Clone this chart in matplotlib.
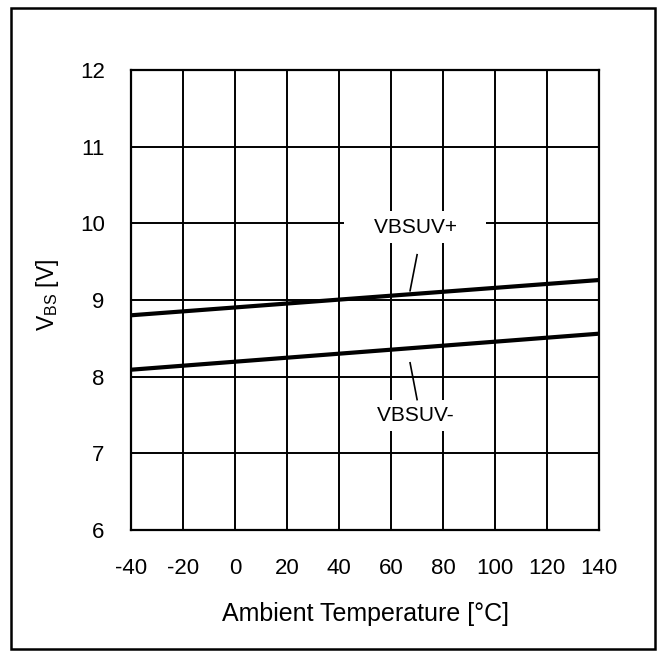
import matplotlib.pyplot as plt
from matplotlib.patches import Rectangle

plt.rcParams['font.family'] = ['Liberation Sans', 'DejaVu Sans']
plt.rcParams['mathtext.default'] = 'regular'
plt.rcParams['axes.unicode_minus'] = False

# data
temps = [-40, 140]
vbsuv_plus = [8.80, 9.26]
vbsuv_minus = [8.09, 8.56]

x_ticks = [-40, -20, 0, 20, 40, 60, 80, 100, 120, 140]
y_ticks = [6, 7, 8, 9, 10, 11, 12]

fig = plt.figure(figsize=(6.62, 6.51), dpi=100)
ax = fig.add_axes([0.198, 0.186, 0.707, 0.7065])

# outer frame around the whole figure
fig.patches.append(Rectangle((0.016, 0.003), 0.973, 0.985, transform=fig.transFigure,
                             fill=False, edgecolor='black', linewidth=1.8))

ax.set_xlim(-40, 140)
ax.set_ylim(6, 12)
ax.set_xticks(x_ticks)
ax.set_yticks(y_ticks)
ax.tick_params(length=0, labelsize=16)
ax.tick_params(axis='y', pad=19)
ax.tick_params(axis='x', pad=20)
ax.grid(True, color='black', linewidth=1.4)
ax.set_axisbelow(True)
for s in ax.spines.values():
    s.set_linewidth(1.6)

ax.plot(temps, vbsuv_plus, color='black', linewidth=3, solid_capstyle='butt', zorder=3)
ax.plot(temps, vbsuv_minus, color='black', linewidth=3, solid_capstyle='butt', zorder=3)

box = dict(boxstyle='square,pad=0.3', facecolor='white', edgecolor='none')
ax.text(69.2, 9.95, '    VBSUV+    ', ha='center', va='center', fontsize=15, bbox=box, zorder=4)
ax.text(69.2, 7.49, '    VBSUV-    ', ha='center', va='center', fontsize=15, bbox=box, zorder=4)

# leader lines from labels to curves
ax.plot([70.0, 67.3], [9.59, 9.12], color='black', linewidth=1.2, zorder=5)
ax.plot([67.3, 70.0], [8.18, 7.70], color='black', linewidth=1.2, zorder=5)

ax.set_xlabel('Ambient Temperature [°C]', fontsize=18)
ax.xaxis.set_label_coords(0.5, -0.157)
ax.set_ylabel('V$_{BS}$ [V]', fontsize=16.5)
ax.yaxis.set_label_coords(-0.150, 0.51)

fig.savefig('out.png', dpi=100)
